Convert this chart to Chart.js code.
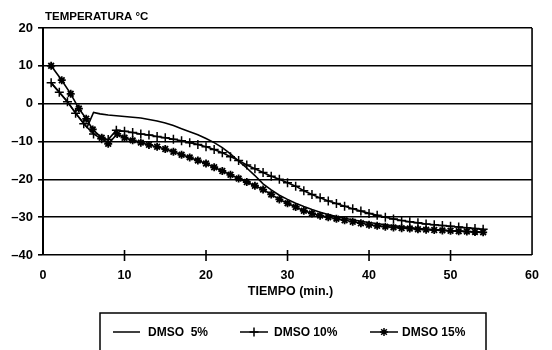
<!DOCTYPE html>
<html>
<head>
<meta charset="utf-8">
<script src="https://cdn.jsdelivr.net/npm/chart.js@4.4.0/dist/chart.umd.min.js"></script>
<style>
  html, body { margin: 0; padding: 0; background: #fff; }
  #wrap { width: 552px; height: 350px; }
</style>
</head>
<body>
<div id="wrap"><canvas id="c" width="552" height="350"></canvas></div>
<script>
// series labels
const labels = ['DMSO  5%', 'DMSO 10%', 'DMSO 15%'];
const yTitle = 'TEMPERATURA \u00B0C';
const xTitle = 'TIEMPO (min.)';
const xTicks = [0, 10, 20, 30, 40, 50, 60];
const yTicks = [-40, -30, -20, -10, 0, 10, 20];

// DMSO 5% (time in min, temperature in C)
const t5 = [1, 2, 3, 4, 5, 5.4, 6.2, 7, 8, 9, 10, 11, 12, 13, 14, 15, 16, 17, 18, 19, 20,
  21, 22, 23, 24, 25, 26, 27, 28, 29, 30, 31, 32, 33, 34, 35, 36, 37, 38, 39, 40,
  42, 44, 46, 48, 50, 52, 54];
const v5 = [5.5, 3, 0.5, -2.5, -5.2, -6.3, -2.3, -2.7, -3, -3.2, -3.4, -3.6, -3.8, -4.2, -4.6, -5.1, -5.8, -6.6, -7.4, -8.2, -9.2,
  -10.3, -11.6, -13.3, -15.2, -17, -19, -21.2, -22.8, -24.2, -25.3, -26.3, -27.2, -28, -28.7, -29.3, -29.8, -30.3, -30.7, -31.1, -31.4,
  -32, -32.5, -33, -33.3, -33.6, -33.8, -34];

// DMSO 10%
const t10 = [1, 2, 3, 4, 5, 6.2, 7.2, 8, 9, 10, 11, 12, 13, 14, 15, 16, 17, 18, 19, 20,
  21, 22, 23, 24, 25, 26, 27, 28, 29, 30, 31, 32, 33, 34, 35, 36, 37, 38, 39, 40,
  41, 42, 43, 44, 45, 46, 47, 48, 49, 50, 51, 52, 53, 54];
const v10 = [5.5, 3, 0.5, -2.5, -5.3, -8, -9.3, -9.5, -7, -7.3, -7.6, -8, -8.3, -8.7, -9, -9.4, -9.8, -10.3, -10.8, -11.4,
  -12.1, -13, -14, -15, -16.2, -17.2, -18.2, -19.2, -20, -20.9, -21.8, -23, -24, -24.9, -25.7, -26.4, -27.1, -27.8, -28.4, -29,
  -29.5, -30, -30.5, -30.9, -31.2, -31.5, -31.8, -32, -32.2, -32.4, -32.6, -32.8, -33, -33.2];

// DMSO 15%
const t15 = [1, 2.3, 3.4, 4.4, 5.3, 6.1, 7.2, 8, 9.1, 10, 11, 12, 13, 14, 15, 16, 17, 18, 19, 20,
  21, 22, 23, 24, 25, 26, 27, 28, 29, 30, 31, 32, 33, 34, 35, 36, 37, 38, 39, 40,
  41, 42, 43, 44, 45, 46, 47, 48, 49, 50, 51, 52, 53, 54];
const v15 = [10, 6.2, 2.6, -1.3, -4, -6.8, -9, -10.6, -8, -9, -9.7, -10.3, -10.9, -11.4, -12, -12.7, -13.5, -14.2, -15, -15.8,
  -16.8, -17.8, -18.8, -19.8, -20.7, -21.7, -22.7, -24, -25.3, -26.3, -27.3, -28.3, -29, -29.6, -30, -30.4, -30.8, -31.2, -31.6, -32,
  -32.3, -32.5, -32.7, -32.9, -33, -33.2, -33.3, -33.4, -33.5, -33.6, -33.7, -33.8, -33.9, -34];

const pts = (t, v) => t.map((x, i) => ({ x: x, y: v[i] }));
const FONT = '"Liberation Sans", Arial, sans-serif';

const deco = {
  id: 'deco',
  afterDraw(chart) {
    const { ctx, chartArea: a, scales: { x } } = chart;
    ctx.save();
    ctx.strokeStyle = '#000';
    ctx.fillStyle = '#000';
    ctx.lineWidth = 1.6;

    // right frame
    ctx.beginPath();
    ctx.moveTo(a.right, a.top);
    ctx.lineTo(a.right, a.bottom);
    ctx.stroke();

    // x tick marks across the bottom line
    x.ticks.forEach(t => {
      if (t.value <= x.min || t.value >= x.max) return;
      const px = x.getPixelForValue(t.value);
      ctx.beginPath();
      ctx.moveTo(px, a.bottom - 5);
      ctx.lineTo(px, a.bottom + 6);
      ctx.stroke();
    });

    // titles
    ctx.font = 'bold 11.5px ' + FONT;
    ctx.textBaseline = 'middle';
    ctx.textAlign = 'left';
    ctx.fillText(yTitle, a.left + 2, a.top - 11);
    ctx.font = 'bold 12.5px ' + FONT;
    ctx.textAlign = 'center';
    ctx.fillText(xTitle, (a.left + a.right) / 2 + 3, a.bottom + 37);

    // legend box
    const bx = 100, by = a.bottom + 58, bw = 386;
    ctx.lineWidth = 1.5;
    ctx.strokeRect(bx, by, bw, 80);
    const ly = by + 19;
    const slots = [[13, 40, 48], [140, 168, 174], [270, 298, 302]];
    chart.data.datasets.forEach((ds, i) => {
      const [s0, s1, tx] = slots[i];
      ctx.lineWidth = 1.5;
      ctx.beginPath();
      ctx.moveTo(bx + s0, ly);
      ctx.lineTo(bx + s1, ly);
      ctx.stroke();
      if (ds.pointRadius > 0) {
        Chart.helpers.drawPoint(ctx, {
          pointStyle: ds.pointStyle, rotation: 0,
          radius: ds.pointRadius, borderWidth: ds.pointBorderWidth
        }, bx + (s0 + s1) / 2, ly);
      }
      ctx.font = 'bold 12px ' + FONT;
      ctx.textAlign = 'left';
      ctx.fillText(ds.label, bx + tx, ly + 1);
    });
    ctx.restore();
  }
};

const common = {
  borderColor: '#000', backgroundColor: '#000',
  pointBorderColor: '#000', pointBackgroundColor: '#000',
  borderWidth: 1.6, tension: 0, fill: false
};

new Chart(document.getElementById('c'), {
  type: 'line',
  data: {
    datasets: [
      { ...common, label: labels[0], data: pts(t5, v5), pointRadius: 0 },
      { ...common, label: labels[1], data: pts(t10, v10), pointStyle: 'cross', pointRadius: 4.5, pointBorderWidth: 1.5 },
      { ...common, label: labels[2], data: pts(t15, v15), pointStyle: 'star', pointRadius: 4, pointBorderWidth: 1.8 }
    ]
  },
  options: {
    responsive: false,
    animation: false,
    devicePixelRatio: 1,
    layout: { padding: { top: 28, right: 10, left: 0, bottom: 0 } },
    plugins: { legend: { display: false }, tooltip: { enabled: false } },
    scales: {
      x: {
        type: 'linear', min: 0, max: 60,
        afterBuildTicks: s => { s.ticks = xTicks.map(v => ({ value: v })); },
        afterFit: s => { s.height = 95; },
        grid: { display: false, drawTicks: false },
        border: { display: false },
        ticks: { color: '#000', padding: 13, font: { family: FONT, size: 12.5, weight: 'bold' } }
      },
      y: {
        min: -40, max: 20,
        afterBuildTicks: s => { s.ticks = yTicks.map(v => ({ value: v })); },
        afterFit: s => { s.width = 43; },
        grid: { color: '#000', lineWidth: 1.6, tickLength: 5 },
        border: { display: true, color: '#000', width: 2 },
        ticks: {
          color: '#000', padding: 5, font: { family: FONT, size: 13, weight: 'bold' },
          callback: v => v < 0 ? '\u2013' + Math.abs(v) : String(v)
        }
      }
    }
  },
  plugins: [deco]
});
</script>
</body>
</html>
